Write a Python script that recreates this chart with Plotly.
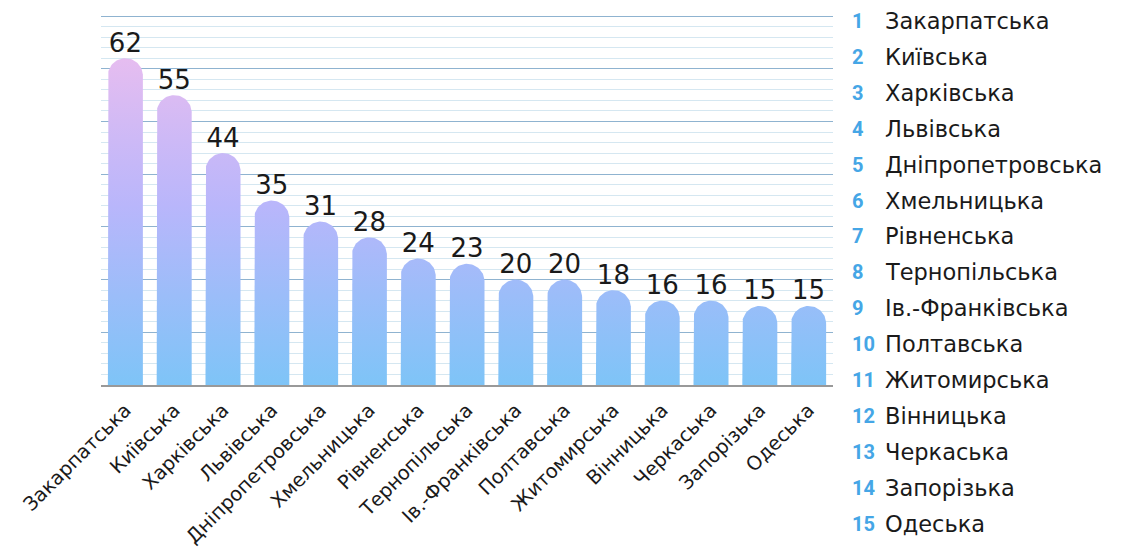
import numpy as np
import plotly.graph_objects as go

regions = ["Закарпатська", "Київська", "Харківська", "Львівська", "Дніпропетровська",
           "Хмельницька", "Рівненська", "Тернопільська", "Ів.-Франківська", "Полтавська",
           "Житомирська", "Вінницька", "Черкаська", "Запорізька", "Одеська"]
values = [62, 55, 44, 35, 31, 28, 24, 23, 20, 20, 18, 16, 16, 15, 15]
ranks = list(range(1, len(regions) + 1))

W, H = 1122, 560
ML, MR, MT, MB = 101, 289, 15, 175
PW, PH = W - ML - MR, H - MT - MB
YMAX = 70.2
n = len(regions)
px_x = PW / n            # pixels per x unit
px_y = PH / YMAX         # pixels per y unit
bar_px = 35
hw = bar_px / 2 / px_x
ry = bar_px / 2 / px_y

FONT = "DejaVu Sans"

fig = go.Figure()
theta = np.linspace(np.pi, 0, 40)
for i, v in enumerate(values):
    xs = [i - hw, i - hw] + list(i + hw * np.cos(theta)) + [i + hw, i - hw]
    ys = [0, v - ry] + list(v - ry + ry * np.sin(theta)) + [0, 0]
    fig.add_trace(go.Scatter(
        x=xs, y=ys, mode="lines", fill="toself",
        line=dict(width=0, color="rgba(0,0,0,0)"),
        fillgradient=dict(type="vertical", start=0, stop=62,
                          colorscale=[[0, "#7ec4f7"], [0.55, "#b9b6fb"], [1, "#e6bdf0"]]),
        hoverinfo="skip", showlegend=False))

fig.add_trace(go.Scatter(
    x=list(range(n)), y=values, mode="text", text=[str(v) for v in values],
    textposition="top center", textfont=dict(family=FONT, size=26, color="#1a1a1a"),
    showlegend=False, hoverinfo="skip"))

# numbered list on the right
row_top, row_step = 21, 35.9
for k, (r, name) in enumerate(zip(ranks, regions)):
    ypix = row_top + k * row_step
    yp = (H - MB - ypix) / PH
    fig.add_annotation(xref="paper", yref="paper", x=(850 - ML) / PW, y=yp,
                       text=f"<b>{r}</b>", showarrow=False, xanchor="left", yanchor="middle",
                       font=dict(family="Roboto", size=20, color="#45a6e6"))
    fig.add_annotation(xref="paper", yref="paper", x=(883 - ML) / PW, y=yp,
                       text=name, showarrow=False, xanchor="left", yanchor="middle",
                       font=dict(family=FONT, size=22.5, color="#1a1a1a"))

fig.update_layout(
    width=W, height=H, margin=dict(l=ML, r=MR, t=MT, b=MB, autoexpand=False),
    plot_bgcolor="white", paper_bgcolor="white", showlegend=False,
    font=dict(family=FONT),
    xaxis=dict(range=[-0.5, n - 0.5], tickvals=list(range(n)), ticktext=regions,
               tickangle=-45, tickfont=dict(family=FONT, size=19.5, color="#1a1a1a"),
               showgrid=False, zeroline=False, showline=True, linecolor="#999999",
               linewidth=2, ticks="", ticklabelstandoff=4, automargin=False,
               fixedrange=True),
    yaxis=dict(range=[0, YMAX], dtick=10, showticklabels=False, showgrid=True,
               gridcolor="#8fb3d0", gridwidth=1.3, zeroline=False, automargin=False,
               minor=dict(dtick=2, showgrid=True, gridcolor="#d5e7f1", gridwidth=1),
               fixedrange=True),
)

fig.write_html("out.html")
